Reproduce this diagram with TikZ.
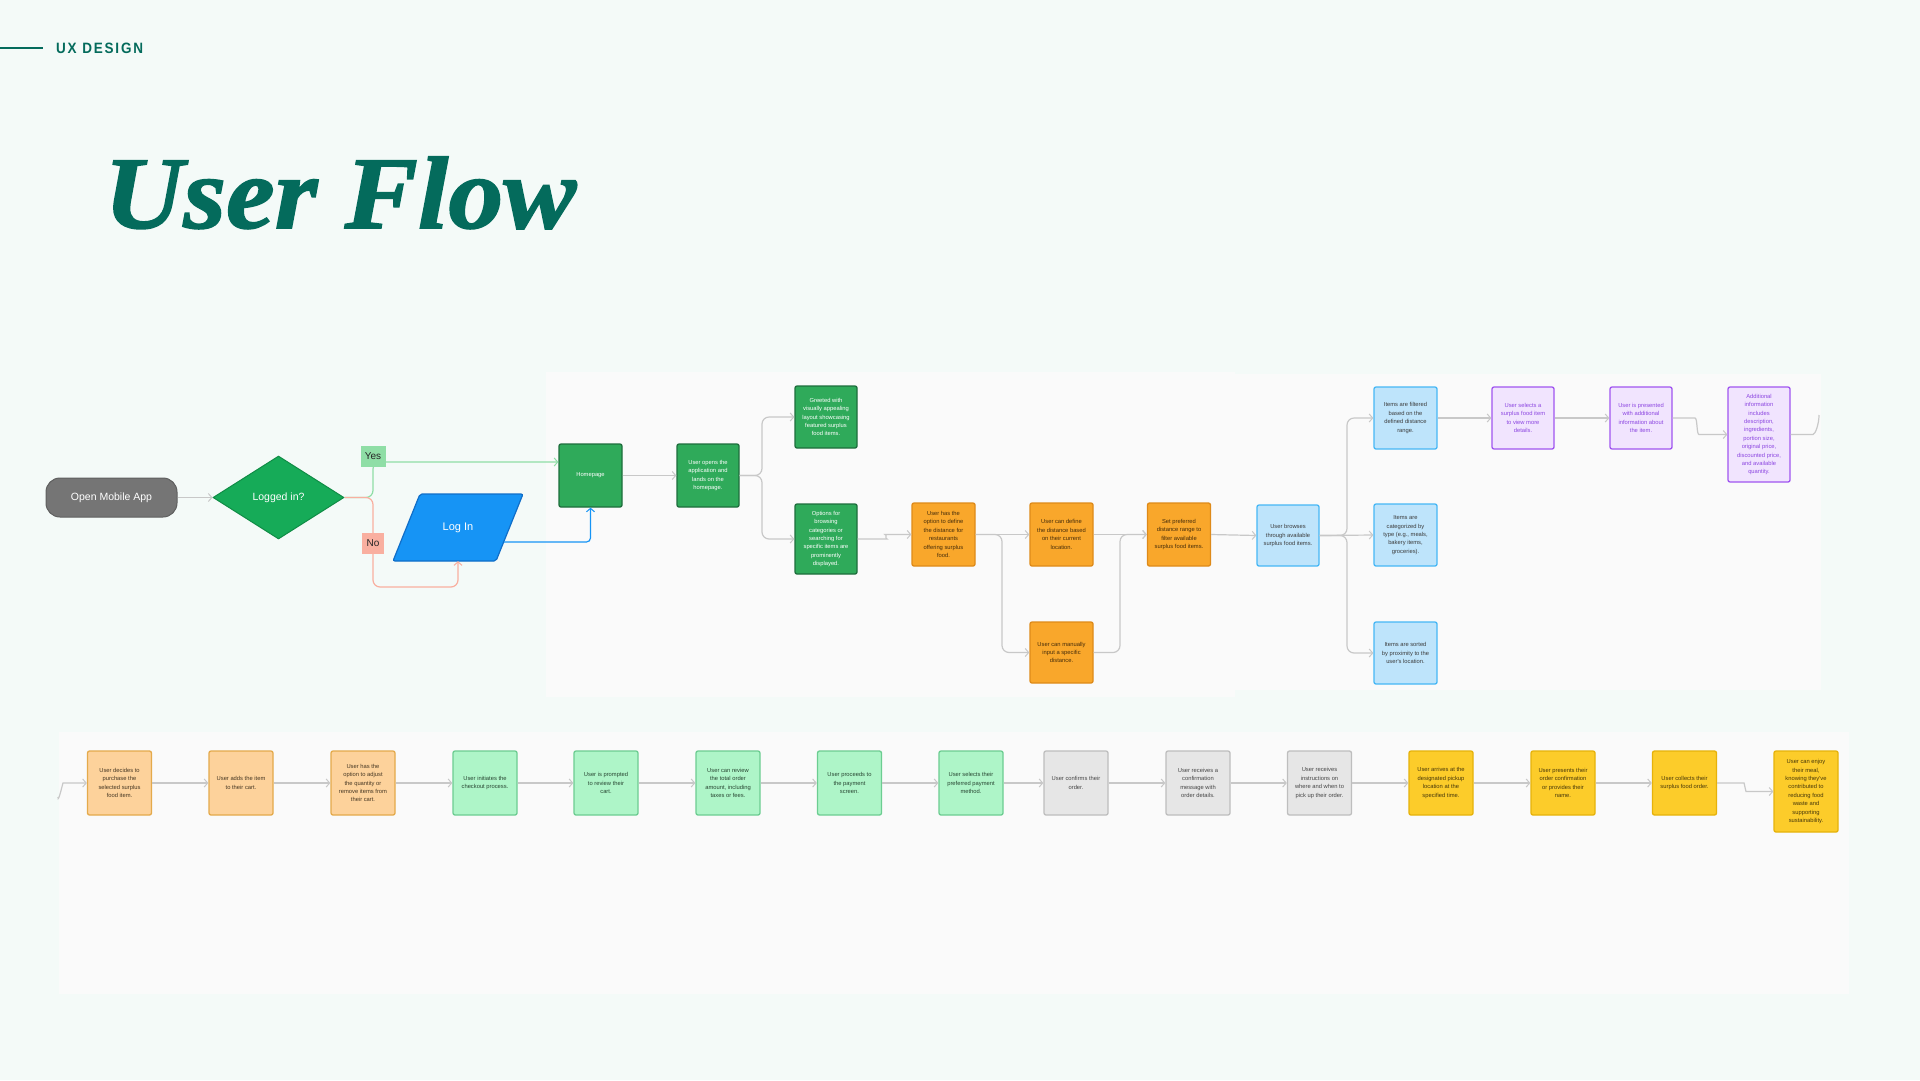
\documentclass[tikz,border=0pt]{standalone}
\usepackage{fontspec}
\setmainfont{Liberation Sans}
\newfontfamily\boxfont{Liberation Sans}
\newfontfamily\titlefont[FakeStretch=1.065,FakeBold=1.5]{Liberation Serif}
\newfontfamily\uxfont[LetterSpace=12,FakeStretch=0.9]{Liberation Sans}
\usetikzlibrary{shapes.geometric,arrows.meta,calc}

\definecolor{bgcol}{RGB}{244,250,248}
\definecolor{panelcol}{RGB}{250,250,250}
\definecolor{tealcol}{RGB}{4,107,92}
\definecolor{conncol}{RGB}{200,200,200}
\definecolor{startfill}{RGB}{117,117,117}
\definecolor{startline}{RGB}{95,95,95}
\definecolor{diafill}{RGB}{22,171,88}
\definecolor{dialine}{RGB}{16,140,70}
\definecolor{dgfill}{RGB}{47,170,90}
\definecolor{dgline}{RGB}{30,110,60}
\definecolor{loginfill}{RGB}{22,148,245}
\definecolor{loginline}{RGB}{16,110,200}
\definecolor{orfill}{RGB}{249,167,43}
\definecolor{orline}{RGB}{222,138,25}
\definecolor{ortext}{RGB}{70,45,10}
\definecolor{bfill}{RGB}{190,228,251}
\definecolor{bline}{RGB}{70,183,245}
\definecolor{btext}{RGB}{60,60,60}
\definecolor{pfill}{RGB}{241,228,254}
\definecolor{pline}{RGB}{160,85,240}
\definecolor{ptext}{RGB}{140,70,225}
\definecolor{pchfill}{RGB}{253,210,155}
\definecolor{pchline}{RGB}{228,170,75}
\definecolor{pchtext}{RGB}{70,55,35}
\definecolor{lgfill}{RGB}{174,245,200}
\definecolor{lgline}{RGB}{108,205,145}
\definecolor{lgtext}{RGB}{40,70,50}
\definecolor{gyfill}{RGB}{230,230,230}
\definecolor{gyline}{RGB}{190,190,190}
\definecolor{gytext}{RGB}{70,70,70}
\definecolor{yfill}{RGB}{252,204,42}
\definecolor{yline}{RGB}{230,178,10}
\definecolor{ytext}{RGB}{70,55,10}
\definecolor{yeslbl}{RGB}{143,222,166}
\definecolor{nolbl}{RGB}{249,175,160}

\tikzset{
  box/.style={draw, rounded corners=2pt, line width=1.3pt, minimum width=63pt, minimum height=63pt,
    inner sep=1pt, align=center, font=\boxfont\fontsize{5.8}{8.4}\selectfont},
  dgbox/.style={box, fill=dgfill, draw=dgline, text=white},
  orbox/.style={box, fill=orfill, draw=orline, text=ortext},
  bbox/.style={box, fill=bfill, draw=bline, text=btext},
  pbox/.style={box, fill=pfill, draw=pline, text=ptext},
  pchbox/.style={box, fill=pchfill, draw=pchline, text=pchtext},
  lgbox/.style={box, fill=lgfill, draw=lgline, text=lgtext},
  gybox/.style={box, fill=gyfill, draw=gyline, text=gytext},
  ybox/.style={box, fill=yfill, draw=yline, text=ytext},
  tip/.style={-{Straight Barb[length=3.5pt,width=8pt,line width=1pt]}},
  conn/.style={draw=conncol, line width=1.2pt, rounded corners=7pt, tip},
  plainconn/.style={draw=conncol, line width=1.2pt, rounded corners=7pt},
  lbl/.style={inner sep=0pt, minimum width=25pt, minimum height=21pt, font=\fontsize{10}{10}\selectfont, text=black!85},
}

\begin{document}
\begin{tikzpicture}[x=1pt,y=-1pt]
\useasboundingbox (0,0) rectangle (1920,1080);
\fill[bgcol] (0,0) rectangle (1920,1080);

% panels
\fill[panelcol] (546,372) rectangle (1235,697);
\fill[panelcol] (1235,374) rectangle (1821,690);
\fill[panelcol] (59,732) rectangle (1849,994);

% header
\node[anchor=base west, inner sep=0pt, text=tealcol, font=\uxfont\bfseries\fontsize{15}{15}\selectfont] (ux) at (56,53) {UX DESIGN};
\coordinate (uxline) at (0,48);
\draw[tealcol, line width=1.2pt] (uxline) -- ++(43,0);
\node[anchor=base west, inner sep=0pt, text=tealcol, font=\titlefont\bfseries\itshape\fontsize{103}{103}\selectfont] (title) at (104,228) {User Flow};

% start area
\node[draw=startline, fill=startfill, line width=1pt, rounded corners=14pt, minimum width=131pt, minimum height=39pt,
  text=white, font=\fontsize{10.5}{10.5}\selectfont] (start) at (111.5,497.5) {Open Mobile App};
\node[diamond, draw=dialine, fill=diafill, line width=1pt, minimum width=131pt, minimum height=83pt, inner sep=0pt,
  text=white, font=\fontsize{10.5}{10.5}\selectfont] (logged) at (278.5,497.5) {Logged in?};
\draw[conn] (start.east) -- (logged.west);

\coordinate (lg) at (458,527.5);
\draw[fill=loginfill, draw=loginline, line width=1.2pt, rounded corners=2pt]
  ($(lg)+(-65,33.5)$) -- ($(lg)+(-38,-33.5)$) -- ($(lg)+(65,-33.5)$) -- ($(lg)+(38,33.5)$) -- cycle;
\node[text=white, font=\fontsize{11}{11}\selectfont, minimum width=103pt, minimum height=67pt] (login) at (lg) {Log In};
\coordinate (loginr) at (504,542);

% top flow nodes
\node[dgbox] (home) at (590.5,475.5) {Homepage};
\node[dgbox, minimum width=62pt] (uopen) at (708,475.5) {User opens the\\application and\\lands on the\\homepage.};
\node[dgbox, minimum width=62pt, minimum height=62pt] (greet) at (826,417) {Greeted with\\visually appealing\\layout showcasing\\featured surplus\\food items.};
\node[dgbox, minimum width=62pt, minimum height=70pt] (opts) at (826,539) {Options for\\browsing\\categories or\\searching for\\specific items are\\prominently\\displayed.};

\node[orbox] (o1) at (943.5,534.5) {User has the\\option to define\\the distance for\\restaurants\\offering surplus\\food.};
\node[orbox] (o2) at (1061.5,534.5) {User can define\\the distance based\\on their current\\location.};
\node[orbox] (o3) at (1179,534.5) {Set preferred\\distance range to\\filter available\\surplus food items.};
\node[orbox, minimum height=61pt] (o4) at (1061.5,652.5) {User can manually\\input a specific\\distance.};

\node[bbox, minimum width=62pt, minimum height=61pt] (b1) at (1288,535.5) {User browses\\through available\\surplus food items.};
\node[bbox, minimum height=62pt] (b2) at (1405.5,418) {Items are filtered\\based on the\\defined distance\\range.};
\node[bbox, minimum height=62pt] (b3) at (1405.5,535) {Items are\\categorized by\\type (e.g., meals,\\bakery items,\\groceries).};
\node[bbox, minimum height=62pt] (b4) at (1405.5,653) {Items are sorted\\by proximity to the\\user's location.};

\node[pbox, minimum width=62pt, minimum height=62pt] (p1) at (1523,418) {User selects a\\surplus food item\\to view more\\details.};
\node[pbox, minimum width=62pt, minimum height=62pt] (p2) at (1641,418) {User is presented\\with additional\\information about\\the item.};
\node[pbox, minimum width=62pt, minimum height=95pt] (p3) at (1759,434.5) {Additional\\information\\includes\\description,\\ingredients,\\portion size,\\original price,\\discounted price,\\and available\\quantity.};

% yes / no / login connectors
\coordinate (homein) at ($(home.west)+(0,-13.5)$);
\draw[draw=yeslbl, line width=1.2pt, rounded corners=7pt, tip] (logged.east) -- (373,497.5) -- (373,462) -- (homein);
\draw[draw=nolbl, line width=1.2pt, rounded corners=7pt, tip] (logged.east) -- (373,497.5) -- (373,587) -- (458,587) -- (login.south);
\draw[draw=loginfill, line width=1.2pt, rounded corners=4pt, tip] (loginr) -| (home.south);
\node[lbl, fill=yeslbl] (yes) at (373,456.5) {Yes};
\node[lbl, fill=nolbl, minimum width=22pt] (no) at (373,543.5) {No};

% top connectors
\draw[conn] (home.east) -- (uopen.west);
\draw[conn] (uopen.east) -- (762,475.5) |- (greet.west);
\draw[conn] (uopen.east) -- (762,475.5) |- (opts.west);
\draw[conn] (opts.east) -- (880,539) to[out=0,in=180] (892,534.5) -- (o1.west);
\draw[conn] (o1.east) -- (o2.west);
\draw[conn] (o1.east) -- (1002,534.5) |- (o4.west);
\draw[conn] (o2.east) -- (o3.west);
\draw[conn] (o4.east) -- (1120,652.5) |- (o3.west);
\draw[conn] (o3.east) -- (b1.west);
\draw[conn] (b1.east) -- (1347,535.5) |- (b2.west);
\draw[conn] (b1.east) -- (b3.west);
\draw[conn] (b1.east) -- (1347,535.5) |- (b4.west);
\draw[conn] (b2.east) -- (p1.west);
\draw[conn] (p1.east) -- (p2.west);
\draw[conn] (p2.east) -- (1688,418) to[out=0,in=180] (1706,434.5) -- (p3.west);
\coordinate (topout) at (1819,415);
\draw[plainconn] (p3.east) -- (1806,434.5) to[out=0,in=-90] (topout);

% bottom flow
\node[pchbox, minimum width=64pt, minimum height=64pt] (q1) at (119.5,783) {User decides to\\purchase the\\selected surplus\\food item.};
\node[pchbox, minimum width=64pt, minimum height=64pt] (q2) at (241,783) {User adds the item\\to their cart.};
\node[pchbox, minimum width=64pt, minimum height=64pt] (q3) at (363,783) {User has the\\option to adjust\\the quantity or\\remove items from\\their cart.};
\node[lgbox, minimum width=64pt, minimum height=64pt] (q4) at (485,783) {User initiates the\\checkout process.};
\node[lgbox, minimum width=64pt, minimum height=64pt] (q5) at (606,783) {User is prompted\\to review their\\cart.};
\node[lgbox, minimum width=64pt, minimum height=64pt] (q6) at (728,783) {User can review\\the total order\\amount, including\\taxes or fees.};
\node[lgbox, minimum width=64pt, minimum height=64pt] (q7) at (849.5,783) {User proceeds to\\the payment\\screen.};
\node[lgbox, minimum width=64pt, minimum height=64pt] (q8) at (971,783) {User selects their\\preferred payment\\method.};
\node[gybox, minimum width=64pt, minimum height=64pt] (q9) at (1076,783) {User confirms their\\order.};
\node[gybox, minimum width=64pt, minimum height=64pt] (q10) at (1198,783) {User receives a\\confirmation\\message with\\order details.};
\node[gybox, minimum width=64pt, minimum height=64pt] (q11) at (1319.5,783) {User receives\\instructions on\\where and when to\\pick up their order.};
\node[ybox, minimum width=64pt, minimum height=64pt] (q12) at (1441,783) {User arrives at the\\designated pickup\\location at the\\specified time.};
\node[ybox, minimum width=64pt, minimum height=64pt] (q13) at (1563,783) {User presents their\\order confirmation\\or provides their\\name.};
\node[ybox, minimum width=64pt, minimum height=64pt] (q14) at (1684.5,783) {User collects their\\surplus food order.};
\node[ybox, minimum width=64pt, minimum height=81pt] (q15) at (1806,791.5) {User can enjoy\\their meal,\\knowing they've\\contributed to\\reducing food\\waste and\\supporting\\sustainability.};

\coordinate (botin) at (58,797);
\draw[conn] (botin) to[out=-90,in=180] (70,783) -- (q1.west);
\foreach \a/\b in {q1/q2,q2/q3,q3/q4,q4/q5,q5/q6,q6/q7,q7/q8,q8/q9,q9/q10,q10/q11,q11/q12,q12/q13,q13/q14}
  \draw[conn] (\a.east) -- (\b.west);
\draw[conn] (q14.east) -- (1737,783) to[out=0,in=180] (1753,791.5) -- (q15.west);
\end{tikzpicture}
\end{document}
